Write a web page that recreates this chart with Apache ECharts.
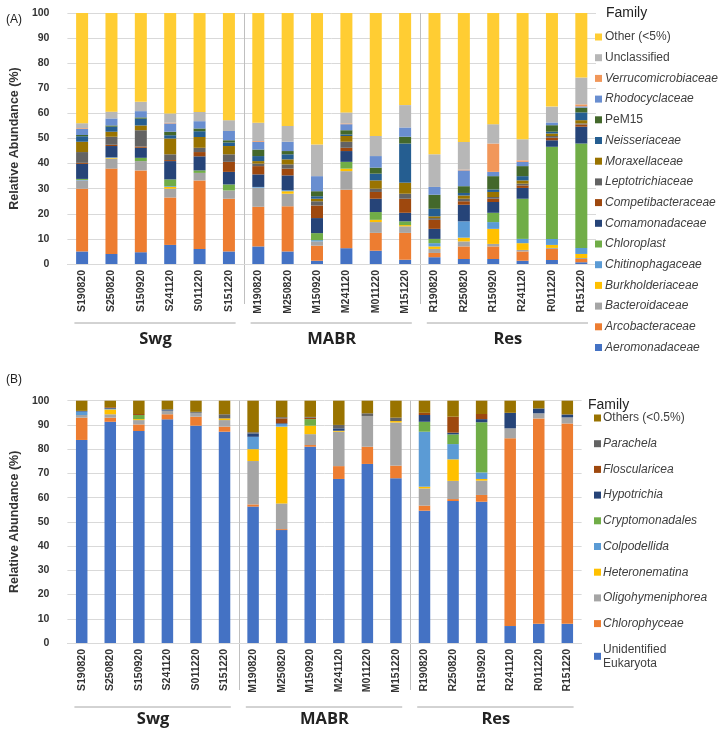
<!DOCTYPE html>
<html><head><meta charset="utf-8">
<script src="https://cdn.jsdelivr.net/npm/echarts@6/dist/echarts.min.js"></script>
<style>html,body{margin:0;padding:0;background:#fff}#c{width:720px;height:730px}</style>
</head><body><div id="c"></div>
<script>
const samples = ['S190820','S250820','S150920','S241120','S011220','S151220','M190820','M250820','M150920','M241120','M011220','M151220','R190820','R250820','R150920','R241120','R011220','R151220'];
const groups = ['Swg','MABR','Res'];
const yTicks = [0,10,20,30,40,50,60,70,80,90,100];

// Panel A (bacterial families), bottom to top
const famNamesA = ['Aeromonadaceae','Arcobacteraceae','Bacteroidaceae','Burkholderiaceae','Chitinophagaceae','Chloroplast','Comamonadaceae','Competibacteraceae','Leptotrichiaceae','Moraxellaceae','Neisseriaceae','PeM15','Rhodocyclaceae','Verrucomicrobiaceae','Unclassified','Other (<5%)'];
const aeromonadaceae   = [5, 4, 4.7, 7.6, 6, 5, 7, 5, 1.3, 6.3, 5.3, 1.7, 2.7, 2, 2, 1.3, 1.6, 0.7];
const arcobacteraceae  = [25, 34, 32.6, 18.9, 27.3, 21, 15.8, 18, 6, 23.3, 7.1, 10.7, 1.7, 5, 5, 3.7, 4.4, 1.3];
const bacteroidaceae   = [3.3, 4, 3.7, 3.5, 3, 3.3, 7.6, 5, 1.7, 7.4, 4.3, 2.6, 1.6, 2, 1, 0.6, 0.4, 0.4];
const burkholderiaceae = [0, 0.3, 0, 0.7, 0, 0, 0, 1, 0, 1, 0.9, 0.5, 1, 1.5, 6, 2.7, 1.2, 1.6];
const chitinophagaceae = [0.2, 0.2, 0, 0.3, 0, 0, 0.3, 0.4, 0.5, 0, 0, 0, 1.3, 6.5, 2.7, 1.7, 2.4, 2.4];
const chloroplast      = [0.4, 0, 1.3, 2.7, 1, 2.4, 0, 0, 2.8, 2.7, 3.1, 1.5, 1.7, 0, 3.7, 16, 36.7, 41.6];
const comamonadaceae   = [6, 4.5, 4, 7.3, 5.6, 5, 5, 5.9, 6, 4.3, 5.3, 3.4, 4, 6.6, 4.3, 4.3, 2.6, 6.7];
const competibacteraceae = [0.4, 0.5, 0.5, 0.4, 1.7, 4, 3.3, 2.7, 5, 1.3, 2.7, 5.6, 3.6, 1.4, 1.3, 1, 1, 0.9];
const leptotrichiaceae = [4.3, 3.2, 6.5, 2.3, 1.7, 3, 1, 1.7, 1.7, 2.4, 1.3, 2, 0.7, 1, 0.7, 0.7, 0.7, 0.4];
const moraxellaceae    = [4.1, 2, 1.9, 6.3, 4.3, 3.3, 1, 2, 1, 2.3, 3.3, 4.4, 0.7, 1.3, 2, 1.3, 1, 1.3];
const neisseriaceae    = [2.2, 2, 2.7, 1.3, 2.3, 1.4, 2, 2, 1, 0.6, 2.7, 15.6, 3, 1, 1, 1.7, 0.7, 3.1];
const pem15            = [0.5, 0.5, 0.5, 1.4, 1.1, 0.9, 2.6, 1.3, 2, 1.7, 2.4, 2.7, 5.6, 2.7, 5.3, 4, 2.6, 1.9];
const rhodocyclaceae   = [2.4, 2.8, 2.5, 3.3, 2.9, 3.7, 3.1, 3.7, 6, 2.4, 4.6, 3.7, 3.1, 6.3, 1.7, 1.7, 1.1, 0.5];
const verrucomicrobiaceae = [0.3, 0, 0, 0.3, 0, 0, 0.3, 0, 0, 0.3, 0, 0, 0, 0.3, 11.3, 0.6, 0, 0.8];
const unclassified     = [2, 2.7, 3.7, 3.7, 3.7, 4.3, 7.3, 6.3, 12.6, 4.4, 8, 8.9, 13, 11, 7.7, 8.4, 6.3, 10.7];
const otherA           = [43.9, 39.3, 35.4, 40, 39.4, 42.7, 43.7, 45, 52.4, 39.6, 49, 36.7, 56.3, 51.4, 44.3, 50.3, 37.3, 25.7];
const valuesA = [aeromonadaceae, arcobacteraceae, bacteroidaceae, burkholderiaceae, chitinophagaceae, chloroplast, comamonadaceae, competibacteraceae, leptotrichiaceae, moraxellaceae, neisseriaceae, pem15, rhodocyclaceae, verrucomicrobiaceae, unclassified, otherA];
const colorsA = ['#4472C4','#ED7D31','#A5A5A5','#FFC000','#5B9BD5','#70AD47','#264478','#9E480E','#636363','#997300','#255E91','#43682B','#698ED0','#F1975A','#B7B7B7','#FFCD33'];
const plainA = ['PeM15','Unclassified','Other (<5%)'];

// Panel B (eukaryotes), bottom to top
const famNamesB = ['Unidentified Eukaryota','Chlorophyceae','Oligohymeniphorea','Heteronematina','Colpodellida','Cryptomonadales','Hypotrichia','Floscularicea','Parachela','Others (<0.5%)'];
const unidentified   = [83.8, 91.3, 87.5, 92.3, 89.7, 87.2, 56.3, 46.6, 81, 67.7, 73.9, 68, 54.6, 58.6, 58.3, 7, 7.9, 7.9];
const chlorophyceae  = [9.2, 1.7, 2.7, 2.1, 3.7, 2.1, 0.9, 0.4, 0.7, 5.3, 7.1, 5.2, 2.1, 0.8, 2.8, 77.5, 84.8, 82.7];
const oligohymeniphorea = [1.1, 1.4, 1.8, 1.5, 1.6, 2.7, 17.9, 10.6, 4.5, 14.2, 12.7, 17.8, 7.1, 7.5, 5.9, 4.1, 2.1, 2.5];
const heteronematina = [0, 2, 0.4, 0, 0, 0.7, 4.9, 31.7, 3.5, 0.4, 0, 0.6, 0.7, 8.9, 0.7, 0, 0, 0];
const colpodellida   = [1.4, 0.3, 0, 0, 0, 0, 5.1, 1.1, 0, 0, 0, 0, 22.7, 6.3, 2.7, 0, 0, 0];
const cryptomonadales = [0, 0, 1.7, 0, 0, 0, 0, 0, 2.7, 0, 0, 0, 4.1, 4, 20.7, 0, 0, 0];
const hypotrichia    = [0.3, 0.3, 0, 0.5, 0, 0, 1.4, 0.3, 0, 1, 0, 0, 2.8, 0.7, 1.3, 6.4, 2, 1];
const floscularicea  = [0, 0.3, 0.4, 0, 0, 0, 0, 2, 0.6, 0, 0, 0, 0.9, 6.6, 2.1, 0, 0, 0];
const parachela      = [0, 0, 0, 0, 0.4, 1.7, 0.5, 0.5, 0.3, 1.4, 1.1, 1.4, 0, 0, 0, 0, 0, 0.3];
const othersB        = [4.2, 2.7, 5.5, 3.6, 4.6, 5.6, 13, 6.8, 6.7, 10, 5.2, 7, 5, 6.6, 5.5, 5, 3.2, 5.6];
const valuesB = [unidentified, chlorophyceae, oligohymeniphorea, heteronematina, colpodellida, cryptomonadales, hypotrichia, floscularicea, parachela, othersB];
const colorsB = ['#4472C4','#ED7D31','#A5A5A5','#FFC000','#5B9BD5','#70AD47','#264478','#9E480E','#636363','#997300'];
const plainB = ['Others (<0.5%)','Unidentified Eukaryota'];

const FONT = '"Liberation Sans", Arial, sans-serif';
const TXT = '#404040';

const series = [];
famNamesA.forEach((n,i)=>series.push({name:n,type:'bar',stack:'A',xAxisIndex:0,yAxisIndex:0,barWidth:12,data:valuesA[i],itemStyle:{color:colorsA[i]},emphasis:{disabled:true}}));
famNamesB.forEach((n,i)=>series.push({name:n,type:'bar',stack:'B',xAxisIndex:1,yAxisIndex:1,barWidth:11.5,data:valuesB[i],itemStyle:{color:colorsB[i]},emphasis:{disabled:true}}));

function yAx(gi){
  return {type:'value',gridIndex:gi,min:0,max:100,interval:10,
    name:'Relative Abundance (%)',nameLocation:'middle',nameGap:38,
    nameTextStyle:{fontFamily:FONT,fontSize:12.5,fontWeight:'bold',color:'#333'},
    axisLine:{show:false},axisTick:{show:false},
    axisLabel:{fontFamily:FONT,fontSize:10.5,fontWeight:'bold',color:'#333',margin:18},
    splitLine:{lineStyle:{color:'#d9d9d9'}}};
}
function xAx(gi){
  return {type:'category',gridIndex:gi,data:samples,
    axisLine:{lineStyle:{color:'#d9d9d9'}},axisTick:{show:false},
    axisLabel:{rotate:90,fontFamily:FONT,fontSize:10.5,fontWeight:'bold',color:'#333',margin:6,interval:0}};
}
function legendFmt(plain){
  return function(name){
    if(name==='Unidentified Eukaryota') return '{n|Unidentified}\n{n|Eukaryota}';
    return plain.includes(name)?'{n|'+name+'}':'{i|'+name+'}';
  };
}
const option = {
  animation:false,
  backgroundColor:'#fff',
  grid:[{left:55.7,top:13,width:540.3,height:251},{left:56,top:400.7,width:525.6,height:242.3}],
  xAxis:[xAx(0),xAx(1)],
  yAxis:[yAx(0),yAx(1)],
  legend:[
    {orient:'vertical',left:595,top:30,padding:0,itemWidth:7,itemHeight:7,itemGap:6.7,icon:'rect',selectedMode:false,
     data:famNamesA.slice().reverse(),formatter:legendFmt(plainA),
     textStyle:{fontFamily:FONT,color:TXT,lineHeight:14,padding:[0,0,0,-2],
       rich:{i:{fontStyle:'italic',fontSize:12,fontFamily:FONT,color:TXT},n:{fontSize:12,fontFamily:FONT,color:TXT}}}},
    {orient:'vertical',left:594,top:411,padding:0,itemWidth:7,itemHeight:7,itemGap:11.7,icon:'rect',selectedMode:false,
     data:famNamesB.slice().reverse(),formatter:legendFmt(plainB),
     textStyle:{fontFamily:FONT,color:TXT,lineHeight:14,padding:[0,0,0,-3],
       rich:{i:{fontStyle:'italic',fontSize:12,fontFamily:FONT,color:TXT,lineHeight:14},n:{fontSize:12,fontFamily:FONT,color:TXT,lineHeight:14}}}}
  ],
  series:series
};
const chart = echarts.init(document.getElementById('c'),null,{renderer:'canvas'});
chart.setOption(option);

const g = [];
function txt(x,y,text,size,weight,align,family){
  g.push({type:'text',x:x,y:y,silent:true,style:{text:text,fill:'#222',font:(weight||'normal')+' '+size+'px '+(family||FONT),align:align||'left',verticalAlign:'middle'}});
}
txt(6,20,'(A)',12);
txt(6,380,'(B)',12);
txt(606,13,'Family',14);
txt(588,405,'Family',14);
[[0,323,339,304],[1,707,719,690]].forEach(function(cfg){
  const ax=cfg[0];
  const c0=chart.convertToPixel({xAxisIndex:ax},samples[0]);
  const c1=chart.convertToPixel({xAxisIndex:ax},samples[1]);
  const w=c1-c0;
  const top=chart.convertToPixel({yAxisIndex:ax},100);
  groups.forEach(function(name,gi){
    const first=chart.convertToPixel({xAxisIndex:ax},samples[gi*6]);
    const last=chart.convertToPixel({xAxisIndex:ax},samples[gi*6+5]);
    g.push({type:'line',silent:true,shape:{x1:first-w/2+7,y1:cfg[1],x2:last+w/2-8,y2:cfg[1]},style:{stroke:'#a6a6a6',lineWidth:1}});
    txt((first+last)/2,cfg[2],name,16.5,'bold','center','"Open Sans", sans-serif');
    if(gi>0){
      const sx=Math.round(first-w/2)+0.5;
      g.push({type:'line',silent:true,shape:{x1:sx,y1:top,x2:sx,y2:cfg[3]},style:{stroke:'#bfbfbf',lineWidth:1}});
    }
  });
});
chart.setOption({graphic:g});
</script>
</body></html>
